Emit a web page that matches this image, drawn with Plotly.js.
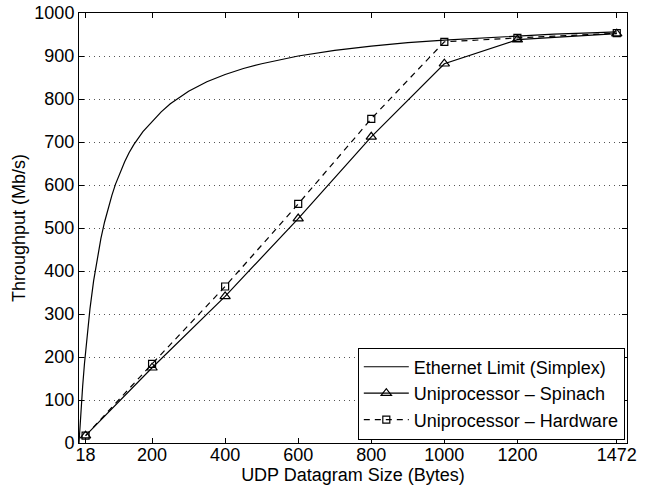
<!DOCTYPE html>
<html>
<head>
<meta charset="utf-8">
<script src="https://cdn.plot.ly/plotly-3.0.1.min.js"></script>
<style>html,body{margin:0;padding:0;background:#fff;}#chart{width:645px;height:489px;}</style>
</head>
<body>
<div id="chart"></div>
<script>
// Ethernet limit curve
const ethX = [0, 2, 5, 10, 15, 20, 30, 40, 50, 60, 70, 80, 90, 100, 112, 125, 137, 150, 175, 200, 225, 250, 275, 300, 350, 400, 450, 500, 600, 700, 800, 900, 1000, 1100, 1200, 1300, 1400, 1472];
const ethY = [0, 29, 70, 132, 185, 233, 312, 377, 431, 476, 514, 548, 576, 602, 629, 654, 675, 694, 724, 748, 770, 789, 804, 818, 840, 857, 871, 882, 900, 913, 923, 931, 937, 942, 947, 951, 954, 956];

// Measured series
const sizes = [18, 200, 400, 600, 800, 1000, 1200, 1472];
const spinach = [17, 175, 341, 522, 712, 882, 938, 952];
const hardware = [17, 184, 364, 556, 754, 933, 942, 953];

const xTicks = [18, 200, 400, 600, 800, 1000, 1200, 1472];
const yTicks = [0, 100, 200, 300, 400, 500, 600, 700, 800, 900, 1000];

const seriesNames = ['Ethernet Limit (Simplex)', 'Uniprocessor \u2013 Spinach', 'Uniprocessor \u2013 Hardware'];

const traces = [
  {x: ethX, y: ethY, name: seriesNames[0], mode: 'lines', line: {color: '#000', width: 1.2}},
  {x: sizes, y: spinach, name: seriesNames[1], mode: 'lines+markers', line: {color: '#000', width: 1.2},
   marker: {symbol: 'triangle-up-open', size: 9, color: '#000', line: {width: 1.2}}},
  {x: sizes, y: hardware, name: seriesNames[2], mode: 'lines+markers', line: {color: '#000', width: 1.2, dash: '6px,5px'},
   marker: {symbol: 'square-open', size: 7, color: '#000', line: {width: 1.2}}}
];

const fontFam = 'Liberation Sans, Arial, Helvetica, sans-serif';
const layout = {
  width: 645, height: 489,
  margin: {l: 79, r: 18, t: 13, b: 46},
  paper_bgcolor: '#fff', plot_bgcolor: '#fff',
  font: {family: fontFam, size: 18, color: '#000'},
  showlegend: true,
  legend: {x: 0.996, y: 0.008, xanchor: 'right', yanchor: 'bottom', bgcolor: '#fff',
           bordercolor: '#000', borderwidth: 1, font: {size: 18}, tracegroupgap: 0, itemwidth: 45},
  xaxis: {range: [0, 1500], tickvals: xTicks, ticktext: xTicks.map(String),
          ticks: 'inside', ticklen: 5, tickcolor: '#000', showline: true, linecolor: '#000', linewidth: 1,
          mirror: 'allticks', showgrid: false, zeroline: false, tickfont: {size: 18}, ticklabelstandoff: -5,
          title: {text: 'UDP Datagram Size (Bytes)', standoff: 0, font: {size: 18}}},
  yaxis: {range: [0, 1000], tickvals: yTicks, ticktext: yTicks.map(String),
          ticks: 'inside', ticklen: 5, tickcolor: '#000', showline: true, linecolor: '#000', linewidth: 1,
          mirror: 'allticks', showgrid: true, gridcolor: '#555', gridwidth: 1, griddash: '1px,4px', zeroline: false,
          tickfont: {size: 18},
          title: {text: 'Throughput (Mb/s)', standoff: 4, font: {size: 18}}}
};

Plotly.newPlot('chart', traces, layout, {displayModeBar: false, staticPlot: true});
</script>
</body>
</html>
